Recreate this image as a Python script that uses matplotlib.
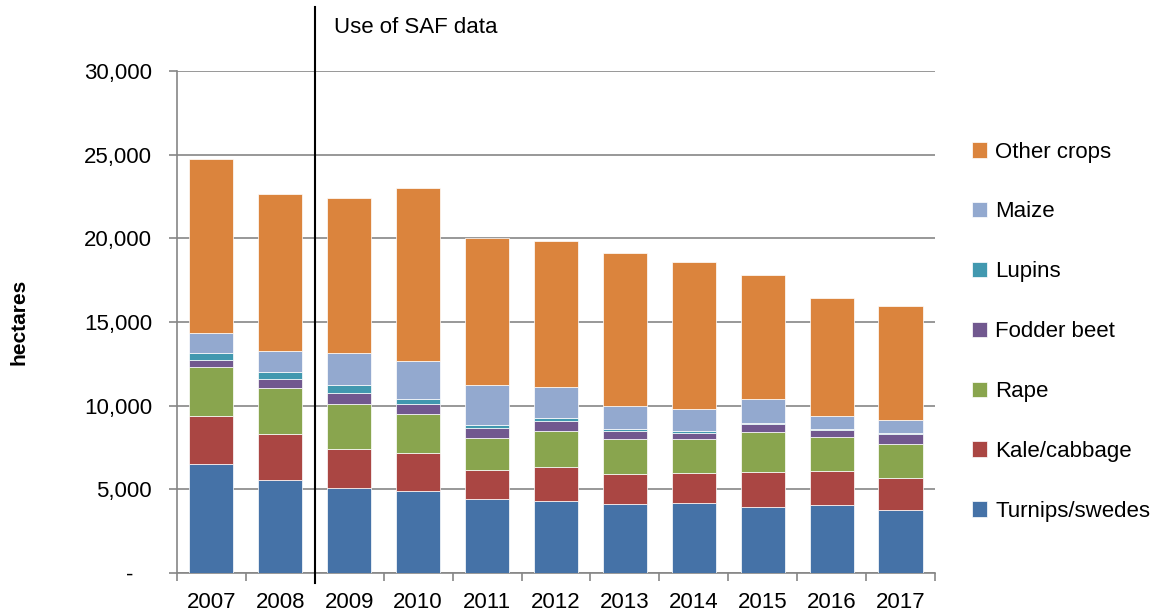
import matplotlib
matplotlib.use('Agg')
import matplotlib.pyplot as plt
import numpy as np
from matplotlib.ticker import FuncFormatter

plt.rcParams['font.family'] = ['Liberation Sans', 'DejaVu Sans']

years = ['2007', '2008', '2009', '2010', '2011', '2012', '2013', '2014', '2015', '2016', '2017']

# hectares
turnips = [6485, 5545, 5108, 4886, 4407, 4329, 4150, 4168, 3934, 4072, 3772]
kale = [2893, 2778, 2293, 2300, 1737, 2018, 1754, 1820, 2096, 2054, 1917]
rape = [2932, 2713, 2695, 2311, 1916, 2156, 2120, 2012, 2413, 2000, 2036]
fodder = [420, 581, 659, 599, 599, 575, 455, 383, 437, 395, 580]
lupins = [445, 419, 502, 299, 203, 162, 102, 78, 84, 60, 36]
maize = [1155, 1214, 1875, 2258, 2395, 1898, 1395, 1359, 1437, 820, 821]
other = [10400, 9385, 9263, 10377, 8743, 8700, 9126, 8761, 7426, 7048, 6808]

series = [
    ('Turnips/swedes', turnips, '#4572A7'),
    ('Kale/cabbage', kale, '#AA4643'),
    ('Rape', rape, '#89A54E'),
    ('Fodder beet', fodder, '#71588F'),
    ('Lupins', lupins, '#4198AF'),
    ('Maize', maize, '#93A9CF'),
    ('Other crops', other, '#DB843D'),
]

fig = plt.figure(figsize=(11.62, 6.12), dpi=100)
ax = fig.add_axes([0.1523, 0.0637, 0.6523, 0.8203])

x = np.arange(len(years))
bottom = np.zeros(len(years))
for name, vals, col in series:
    ax.bar(x, vals, 0.64, bottom=bottom, color=col, edgecolor='white',
           linewidth=0.5, label=name, zorder=3)
    bottom += np.array(vals)

ax.set_xlim(-0.5, len(years) - 0.5)
ax.set_ylim(0, 30000)
ax.set_yticks(np.arange(0, 30001, 5000))
# excel accounting style: zero shown as a dash, set in a bit
ax.yaxis.set_major_formatter(FuncFormatter(lambda v, p: '-\u00a0\u00a0\u00a0' if v == 0 else f'{int(v):,}'))
ax.set_xticks(x)
ax.set_xticklabels(years)
ax.set_xticks(np.arange(-0.5, len(years), 1), minor=True)
ax.tick_params(axis='x', which='major', length=0, labelsize=16, pad=14)
ax.tick_params(axis='x', which='minor', length=6, color='#868686', width=1.2)
ax.tick_params(axis='y', length=6, color='#868686', width=1.2, labelsize=16, pad=12)

ax.grid(axis='y', color='#868686', linewidth=1.2, zorder=0)
for s in ['top', 'right']:
    ax.spines[s].set_visible(False)
for s in ['left', 'bottom']:
    ax.spines[s].set_color('#868686')
    ax.spines[s].set_linewidth(1.2)

ax.set_ylabel('hectares', fontsize=15, fontweight='bold', labelpad=40)

# marker for start of SAF data
ax.plot([1.5, 1.5], [-600, 33800], color='black', linewidth=1.5, clip_on=False, zorder=4)
ax.text(1.78, 32600, 'Use of SAF data', fontsize=16, va='center', ha='left')

h, l = ax.get_legend_handles_labels()
fig.legend(h[::-1], l[::-1], loc='center left', bbox_to_anchor=(0.819, 0.458),
           frameon=False, fontsize=16, labelspacing=1.75, handlelength=0.7,
           handleheight=0.7, handletextpad=0.35)

fig.savefig('out.png', dpi=100)
